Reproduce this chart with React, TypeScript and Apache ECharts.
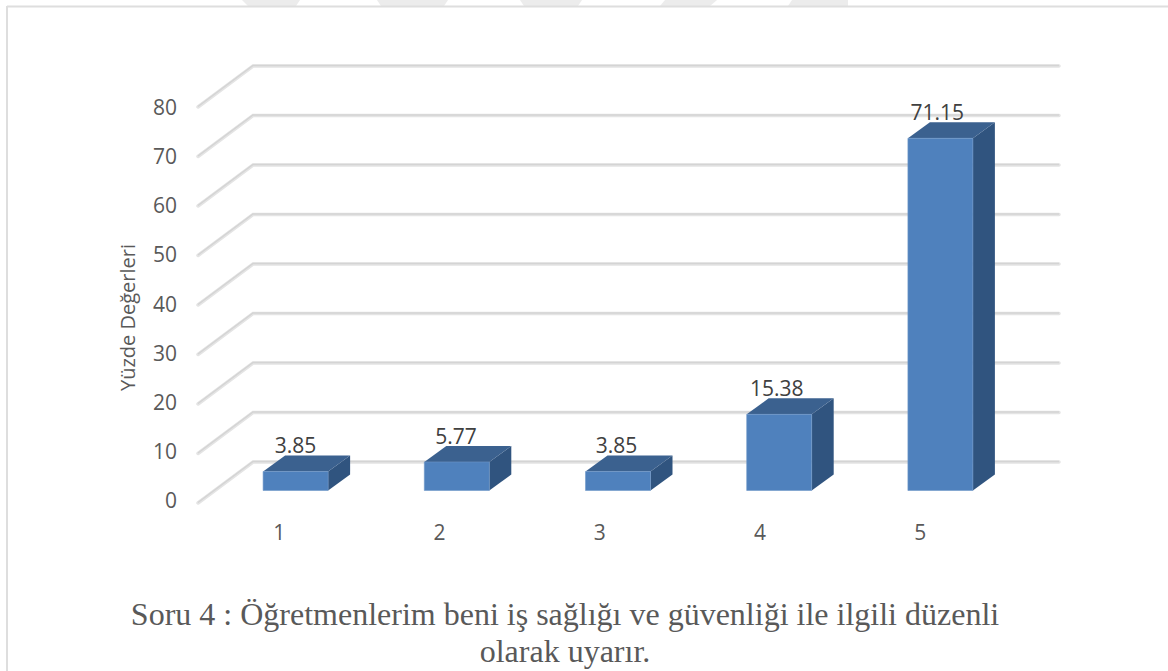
import React, { useEffect, useRef } from "react";
import * as echarts from "echarts";

const categories = ["1", "2", "3", "4", "5"];
const values = [3.85, 5.77, 3.85, 15.38, 71.15];
const gridValues = [0, 10, 20, 30, 40, 50, 60, 70, 80];
const axisTitle = "Yüzde Değerleri";
const caption = "Soru 4 : Öğretmenlerim beni iş sağlığı ve güvenliği ile ilgili düzenli\nolarak uyarır.";

const WALL_DX = 55;
const WALL_DY = 41;
const FRONT = "#4f81bd";
const TOP = "#3b618f";
const SIDE = "#30547f";
const GREY = "#595959";
const UI_FONT = "'Open Sans', sans-serif";

const watermark = [
  [[242, 0], [300, 0], [296, 6], [248, 6]],
  [[377, 0], [448, 0], [444, 6], [381, 6]],
  [[520, 0], [582, 0], [578, 6], [524, 6]],
  [[665, 0], [717, 0], [710, 6], [660, 6]],
  [[792, 0], [848, 0], [848, 6], [788, 6]],
];

function renderWall(params: any, api: any) {
  const cs = params.coordSys;
  const y = api.coord([categories[0], api.value(0)])[1];
  const x0 = cs.x;
  const xb = cs.x + WALL_DX;
  const xe = cs.x + cs.width + WALL_DX;
  const yb = y - WALL_DY;
  const pts = [[x0, y], [xb, yb], [xe, yb]];
  return {
    type: "group",
    children: [
      { type: "polyline", shape: { points: pts }, style: { fill: "none", stroke: "#e4e4e4", lineWidth: 3.5, lineCap: "round" } },
      { type: "polyline", shape: { points: pts.map(([a, b]) => [a, b - 0.5]) }, style: { fill: "none", stroke: "#d4d4d4", lineWidth: 1.5 } },
    ],
  };
}

function renderBar(params: any, api: any) {
  const BAR_W = 65;
  const DEPTH_X = 22;
  const DEPTH_Y = 16;
  const SHIFT_X = 17;
  const SHIFT_Y = 12.5;
  const [cx, topY] = api.coord([api.value(0), api.value(1)]);
  const baseY = api.coord([api.value(0), 0])[1];
  const l = cx + SHIFT_X - BAR_W / 2;
  const r = l + BAR_W;
  const t = topY - SHIFT_Y;
  const b = baseY - SHIFT_Y;
  return {
    type: "group",
    children: [
      { type: "polygon", shape: { points: [[r, t], [r + DEPTH_X, t - DEPTH_Y], [r + DEPTH_X, b - DEPTH_Y], [r, b]] }, style: { fill: SIDE } },
      { type: "polygon", shape: { points: [[l, t], [l + DEPTH_X, t - DEPTH_Y], [r + DEPTH_X, t - DEPTH_Y], [r, t]] }, style: { fill: TOP } },
      { type: "rect", shape: { x: l, y: t, width: BAR_W, height: b - t }, style: { fill: FRONT, stroke: "#6f97c8", lineWidth: 0.6 } },
      {
        type: "text",
        style: {
          x: cx + SHIFT_X - params.dataIndex * 0.8,
          y: t - DEPTH_Y - 10,
          text: String(api.value(1)),
          fill: "#404040",
          font: `21px ${UI_FONT}`,
          align: "center",
          verticalAlign: "middle",
        },
      },
    ],
  };
}

export default function App() {
  const ref = useRef<HTMLDivElement>(null);
  useEffect(() => {
    document.body.style.margin = "0";
    const chart = echarts.init(ref.current!, undefined, { renderer: "svg" });
    chart.setOption({
      animation: false,
      backgroundColor: "#ffffff",
      title: {
        text: caption,
        left: 560,
        top: 590,
        textAlign: "center",
        textStyle: { fontFamily: "'Liberation Serif', serif", fontSize: 32, fontWeight: "normal", color: GREY, lineHeight: 37 },
      },
      grid: [
        { left: 198, top: 107, width: 806, height: 396 },
        { left: 199, top: 107, width: 801.5, height: 393 },
      ],
      xAxis: [
        { type: "category", gridIndex: 0, data: categories, show: false },
        {
          type: "category",
          gridIndex: 1,
          data: categories,
          axisLine: { show: false },
          axisTick: { show: false },
          axisLabel: { color: GREY, fontFamily: UI_FONT, fontSize: 21, margin: 21 },
        },
      ],
      yAxis: [
        { type: "value", gridIndex: 0, min: 0, max: 80, interval: 10, show: false },
        {
          type: "value",
          gridIndex: 1,
          min: 0,
          max: 80,
          interval: 10,
          name: axisTitle,
          nameLocation: "middle",
          nameGap: 62,
          nameTextStyle: { color: GREY, fontFamily: UI_FONT, fontSize: 20, padding: [0, 28, 0, 0] },
          axisLine: { show: false },
          axisTick: { show: false },
          splitLine: { show: false },
          axisLabel: { color: GREY, fontFamily: UI_FONT, fontSize: 21, margin: 22 },
        },
      ],
      graphic: [
        ...watermark.map((points) => ({ type: "polygon", shape: { points }, style: { fill: "#ececec" }, silent: true })),
        { type: "line", shape: { x1: 7, y1: 6.5, x2: 1168, y2: 6.5 }, style: { stroke: "#dedede", lineWidth: 2 } },
        { type: "line", shape: { x1: 7, y1: 6, x2: 7, y2: 671 }, style: { stroke: "#dedede", lineWidth: 2 } },
      ],
      series: [
        {
          type: "custom",
          xAxisIndex: 0,
          yAxisIndex: 0,
          renderItem: renderWall,
          data: gridValues.map((v) => [v]),
          encode: { y: 0 },
          silent: true,
          z: 1,
        },
        {
          type: "custom",
          xAxisIndex: 0,
          yAxisIndex: 0,
          renderItem: renderBar,
          data: categories.map((c, i) => [c, values[i]]),
          encode: { x: 0, y: 1 },
          z: 2,
        },
      ],
    });
    return () => chart.dispose();
  }, []);
  return <div ref={ref} style={{ width: 1168, height: 671 }} />;
}
